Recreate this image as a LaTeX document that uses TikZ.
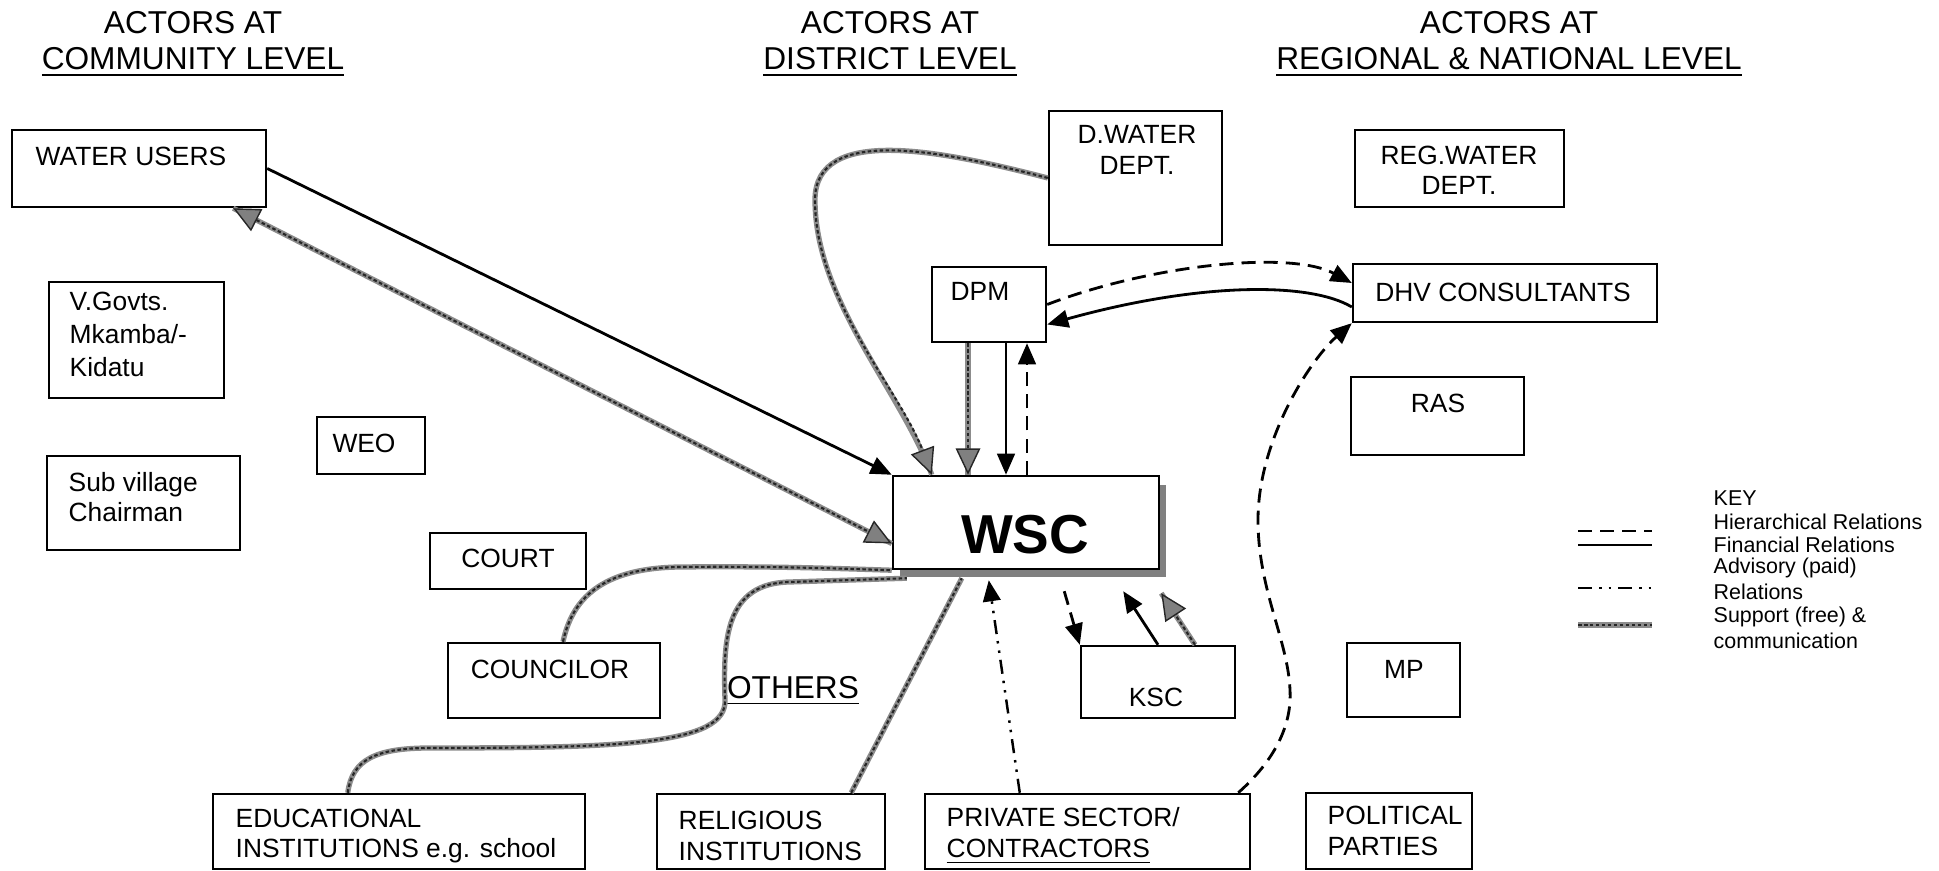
\documentclass[tikz,border=0pt]{standalone}
\usepackage{fontspec}
\setmainfont{Liberation Sans}
\usetikzlibrary{arrows.meta,calc,fit}

\tikzset{
  sarr/.tip={Triangle[length=7.5pt,width=7pt,line width=0.4pt,fill=black!50]},
  barr/.tip={Triangle[length=6pt,width=5pt]},
}

\begin{document}
\begin{tikzpicture}[x=0.01cm,y=-0.01cm,
  box/.style={draw, line width=0.7pt, inner sep=0pt, fill=white},
  lbl/.style={font=\fontsize{7.5}{8.6}\selectfont, inner sep=0pt, align=left},
  hdr/.style={font=\fontsize{9}{10.2}\selectfont, inner sep=0pt, align=center},
  keytxt/.style={font=\fontsize{6.1}{6.6}\selectfont, inner sep=0pt, anchor=west},
  finline/.style={line width=0.8pt},
  hierline/.style={line width=0.8pt, dash pattern=on 4pt off 2.3pt},
  advline/.style={line width=0.7pt, dash pattern=on 4pt off 2pt on 0.7pt off 2pt on 0.7pt off 2pt},
  suppline/.style={draw=black!85, line width=0.6pt, dash pattern=on 1pt off 0.7pt,
                   preaction={draw=black!45, line width=1.5pt, arrows=-, solid}},
  fin/.style={finline, -barr},
  hier/.style={hierline, -barr},
  adv/.style={advline, -barr},
]
\useasboundingbox (0,0) rectangle (1939,871);

% ---------- column headings ----------
\node[hdr, anchor=north] (h1) at (193,11) {ACTORS AT\\\underline{COMMUNITY LEVEL}};
\node[hdr, anchor=north] (h2) at (890,11) {ACTORS AT\\\underline{DISTRICT LEVEL}};
\node[hdr, anchor=north] (h3) at (1509,11) {ACTORS AT\\\underline{REGIONAL \& NATIONAL LEVEL}};

% ---------- community level ----------
\node[box, fit={(12,130) (266,207)}] (wu) {};
\node[lbl, anchor=west] (wu-t) at (35,156) {WATER USERS};

\node[box, fit={(49,282) (224,398)}] (vg) {};
\node[lbl, anchor=west, font=\fontsize{7.5}{9.4}\selectfont] (vg-t) at (69,334) {V.Govts.\\Mkamba/-\\Kidatu};

\node[box, fit={(47,456) (240,550)}] (sv) {};
\node[lbl, anchor=west] (sv-t) at (68,497) {Sub village\\Chairman};

\node[box, fit={(317,417) (425,474)}] (weo) {};
\node[lbl] (weo-t) at (364,443) {WEO};

\node[box, fit={(430,533) (586,589)}] (court) {};
\node[lbl] (court-t) at (508,558) {COURT};

\node[box, fit={(448,643) (660,718)}] (coun) {};
\node[lbl] (coun-t) at (550,669) {COUNCILOR};

\node[hdr] (oth) at (793,691) {\underline{OTHERS}};

% ---------- others (bottom row) ----------
\node[box, fit={(213,794) (585,869)}] (edu) {};
\node[lbl, anchor=west] (edu-t) at (235,836) {EDUCATIONAL\\INSTITUTIONS e.g. school};

\node[box, fit={(657,794) (885,869)}] (rel) {};
\node[lbl, anchor=west] (rel-t) at (678,836) {RELIGIOUS\\INSTITUTIONS};

\node[box, fit={(925,794) (1250,869)}] (pvt) {};
\node[lbl, anchor=west] (pvt-t) at (946,836) {PRIVATE SECTOR/\\\underline{CONTRACTORS}};

\node[box, fit={(1306,793) (1472,869)}] (pp) {};
\node[lbl, anchor=west] (pp-t) at (1327,831) {POLITICAL\\PARTIES};

% ---------- district level ----------
\node[box, fit={(1049,111) (1222,245)}] (dwd) {};
\node[lbl, align=center] (dwd-t) at (1137,150) {D.WATER\\DEPT.};

\node[box, fit={(932,267) (1046,342)}] (dpm) {};
\node[lbl] (dpm-t) at (980,291) {DPM};

% water and sanitation committee with its shadow
\fill[black!50] (900,485) rectangle (1166,577);
\node[box, fit={(893,476) (1159,569)}] (wsc) {};
\node[inner sep=0pt, font=\fontsize{15.6}{18}\selectfont\bfseries] (wsc-t) at (1025,535) {WSC};

\node[box, fit={(1081,646) (1235,718)}] (ksc) {};
\node[lbl] (ksc-t) at (1156,697) {KSC};

% ---------- regional and national level ----------
\node[box, fit={(1355,130) (1564,207)}] (reg) {};
\node[lbl, align=center] (reg-t) at (1459,170) {REG.WATER\\DEPT.};

\node[box, fit={(1353,264) (1657,322)}] (dhv) {};
\node[lbl] (dhv-t) at (1503,292) {DHV CONSULTANTS};

\node[box, fit={(1351,377) (1524,455)}] (ras) {};
\node[lbl] (ras-t) at (1438,403) {RAS};

\node[box, fit={(1347,643) (1460,717)}] (mp) {};
\node[lbl] (mp-t) at (1404,669) {MP};

% ---------- relations ----------
% water users
\draw[fin] (wu.east) -- (wsc.north west);
\draw[suppline, sarr-sarr] ($(wu.south east)+(-34,0)$) -- ($(wsc.west)+(0,21)$);

% district water department
\draw[suppline, -sarr] (dwd.west) .. controls (940,150) and (815,125) .. (815,200)
  .. controls (815,300) and (900,390) .. ($(wsc.north west)+(40,0)$);

% DPM and WSC
\coordinate (d1) at ($(dpm.south)+(-21,0)$);
\coordinate (d2) at ($(dpm.south)+(17,0)$);
\coordinate (d3) at ($(dpm.south)+(38,0)$);
\draw[suppline, -sarr] (d1) -- (d1 |- wsc.north);
\draw[fin] (d2) -- (d2 |- wsc.north);
\draw[hier] (d3 |- wsc.north) -- (d3);

% DPM and consultants
\draw[hier] (dpm.east) .. controls (1150,265) and (1290,250) .. ($(dhv.west)+(0,-10)$);
\draw[fin] ($(dhv.west)+(0,14)$) .. controls (1310,282) and (1200,282) .. ($(dpm.east)+(0,20)$);

% private sector and consultants
\draw[hier] ($(pvt.north east)+(-13,0)$) .. controls (1275,760) and (1292,725) .. (1290,690)
  .. controls (1288,640) and (1258,590) .. (1258,520)
  .. controls (1258,440) and (1310,360) .. (dhv.south west);

% KSC and WSC
\draw[hier] ($(wsc.south east)+(-96,21)$) -- (ksc.north west);
\draw[fin] (ksc.north) -- ($(wsc.south east)+(-37,21)$);
\draw[suppline, -sarr] ($(ksc.north)+(37,0)$) -- ($(wsc.south east)+(1,23)$);

% councilor, schools, religious institutions
\draw[suppline] ($(coun.north)+(9,0)$) .. controls (572,600) and (600,568) .. (680,567)
  .. controls (780,566) and (850,569) .. (wsc.south west);
\draw[suppline] ($(edu.north west)+(136,0)$) .. controls (352,760) and (375,748) .. (430,748)
  .. controls (620,748) and (727,745) .. (725,700)
  .. controls (723,640) and (725,583) .. (790,582) -- ($(wsc.south west)+(15,8)$);
\draw[suppline] ($(rel.north east)+(-35,0)$) -- ($(wsc.south west)+(70,8)$);

% private sector advisory
\draw[adv] ($(pvt.north west)+(96,0)$) -- ($(wsc.south west)+(97,10)$);

% ---------- key ----------
\node[keytxt] (k0) at (1713,498) {KEY};
\node[keytxt] (k1) at (1713,522) {Hierarchical Relations};
\node[keytxt] (k2) at (1713,545) {Financial Relations};
\node[keytxt] (k3) at (1713,568) {Advisory (paid)};
\node[keytxt] (k4) at (1713,592) {Relations};
\node[keytxt] (k5) at (1713,617) {Support (free) \&};
\node[keytxt] (k6) at (1713,641) {communication};

\coordinate (ka1) at (1578,531); \coordinate (kb1) at (1652,531);
\coordinate (ka2) at (1578,545); \coordinate (kb2) at (1652,545);
\coordinate (ka3) at (1578,588); \coordinate (kb3) at (1652,588);
\coordinate (ka4) at (1578,625); \coordinate (kb4) at (1652,625);
\draw[hierline] (ka1) -- (kb1);
\draw[finline] (ka2) -- (kb2);
\draw[advline] (ka3) -- (kb3);
\draw[suppline] (ka4) -- (kb4);
\end{tikzpicture}
\end{document}
